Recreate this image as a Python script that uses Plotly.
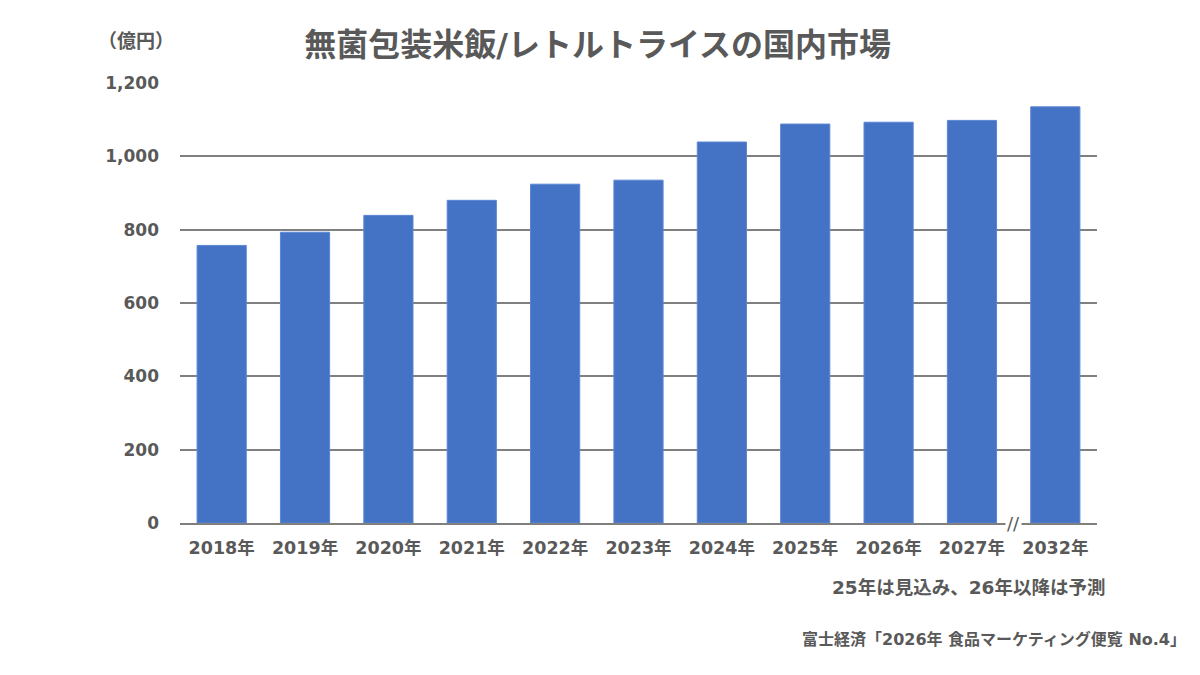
import plotly.graph_objects as go

categories = ["2018年", "2019年", "2020年", "2021年", "2022年", "2023年",
              "2024年", "2025年", "2026年", "2027年", "2032年"]
values = [757, 793, 839, 880, 924, 935, 1039, 1088, 1093, 1098, 1135]
y_ticks = [0, 200, 400, 600, 800, 1000, 1200]
y_tick_labels = ["0", "200", "400", "600", "800", "1,000", "1,200"]

FONT = "DejaVu Sans, Noto Sans CJK JP, sans-serif"
GRAY = "#595959"

fig = go.Figure()
fig.add_trace(go.Bar(
    x=categories, y=values,
    marker=dict(color="#4472C4", line=dict(color="#5B86D4", width=1)),
    width=0.59,
))

fig.update_layout(
    width=1200, height=675,
    margin=dict(l=180, r=103, t=83, b=152),
    paper_bgcolor="white", plot_bgcolor="white",
    showlegend=False,
    font=dict(family=FONT, color=GRAY),
    title=dict(text="<b>無菌包装米飯/レトルトライスの国内市場</b>",
               x=0.498, xanchor="center", y=0.933, yanchor="middle",
               font=dict(size=32, color=GRAY, family=FONT)),
    xaxis=dict(showline=True, linecolor="#7f7f7f", linewidth=1.5,
               tickfont=dict(size=17.5, color=GRAY, family=FONT, weight="bold"),
               ticks="", showgrid=False, ticklabelstandoff=8),
    yaxis=dict(range=[0, 1200], tickvals=y_ticks, ticktext=y_tick_labels,
               tickfont=dict(size=17, color=GRAY, family=FONT, weight="bold"),
               showgrid=True, gridcolor="#808080", gridwidth=1.5,
               zeroline=False, showline=False, ticks="", ticklabelstandoff=20),
    bargap=0.41,
)

fig.add_annotation(text="<b>（億円）</b>", xref="paper", yref="paper",
                   x=-0.092, y=1.098, xanchor="left", yanchor="middle",
                   showarrow=False,
                   font=dict(size=19, color=GRAY, family="Noto Sans CJK JP, sans-serif"))
fig.add_annotation(text="//", xref="x", yref="paper", x=9.5, y=0,
                   xanchor="center", yanchor="middle", showarrow=False,
                   bgcolor="white", font=dict(size=18, color=GRAY, family=FONT))
fig.add_annotation(text="<b>25年は見込み、26年以降は予測</b>", xref="paper", yref="paper",
                   x=1.012, y=-0.147, xanchor="right", yanchor="middle",
                   showarrow=False, font=dict(size=18.5, color=GRAY, family=FONT))
fig.add_annotation(text="<b>富士経済「2026年 食品マーケティング便覧 No.4」</b>",
                   xref="paper", yref="paper",
                   x=1.099, y=-0.264, xanchor="right", yanchor="middle",
                   showarrow=False, font=dict(size=16, color=GRAY, family=FONT))

fig.write_html("out.html")
